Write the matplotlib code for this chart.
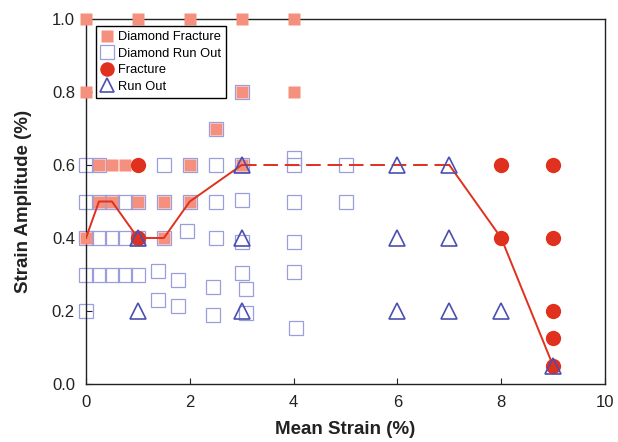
import matplotlib
matplotlib.use("Agg")
import matplotlib.pyplot as plt

plt.rcParams["font.family"] = ["Liberation Sans", "DejaVu Sans"]

# Diamond Run Out (open squares)
run_out_sq_x = [0, 0, 0, 0, 0,
                0.25, 0.25, 0.25, 0.25,
                0.5, 0.5, 0.5,
                0.75, 0.75, 0.75,
                1.0, 1.0, 1.0,
                1.38, 1.38,
                1.5, 1.5, 1.5,
                1.77, 1.77,
                1.95,
                2.0, 2.0,
                2.44, 2.44,
                2.5, 2.5, 2.5, 2.5,
                3.0, 3.0, 3.0, 3.0, 3.0,
                3.09, 3.09,
                4.0, 4.0, 4.0, 4.0, 4.0,
                4.05,
                5.0, 5.0]
run_out_sq_y = [0.6, 0.5, 0.4, 0.3, 0.2,
                0.6, 0.5, 0.4, 0.3,
                0.5, 0.4, 0.3,
                0.5, 0.4, 0.3,
                0.5, 0.4, 0.3,
                0.309, 0.23,
                0.6, 0.5, 0.4,
                0.284, 0.215,
                0.42,
                0.6, 0.5,
                0.265, 0.19,
                0.7, 0.6, 0.5, 0.4,
                0.8, 0.6, 0.504, 0.39, 0.304,
                0.259, 0.195,
                0.62, 0.6, 0.5, 0.39, 0.306,
                0.154,
                0.6, 0.5]

# Diamond Fracture (filled squares)
fracture_sq_x = [0, 1, 2, 3, 4,
                 0, 3, 4,
                 2.5,
                 0.25, 0.5, 0.75, 2.0, 3.0,
                 0.25, 0.5, 1.0, 1.5, 2.0,
                 0, 1.5]
fracture_sq_y = [1.0, 1.0, 1.0, 1.0, 1.0,
                 0.8, 0.8, 0.8,
                 0.7,
                 0.6, 0.6, 0.6, 0.6, 0.6,
                 0.5, 0.5, 0.5, 0.5, 0.5,
                 0.4, 0.4]

# Fracture (circles)
fracture_x = [1, 1, 8, 9, 8, 9, 9, 9, 9]
fracture_y = [0.6, 0.4, 0.6, 0.6, 0.4, 0.4, 0.2, 0.125, 0.05]

# Run Out (triangles)
run_out_x = [1, 1, 3, 3, 3, 6, 7, 6, 7, 6, 7, 8, 9]
run_out_y = [0.4, 0.2, 0.6, 0.4, 0.2, 0.6, 0.6, 0.4, 0.4, 0.2, 0.2, 0.2, 0.05]

# boundary line
left_x = [0, 0.25, 0.5, 1.0, 1.5, 2.0, 3.0]
left_y = [0.4, 0.5, 0.5, 0.4, 0.4, 0.5, 0.6]
mid_x = [3.0, 7.0]
mid_y = [0.6, 0.6]
right_x = [7.0, 8.0, 9.0]
right_y = [0.6, 0.4, 0.05]

SALMON = "#F5907E"
LAVENDER = "#9B9EDC"
RED = "#E0301E"
BLUE = "#4A4FB0"

fig = plt.figure(figsize=(6.18, 4.42), dpi=100)
ax = fig.add_axes([86 / 618, 1 - 384 / 442, 519 / 618, 365 / 442])

ax.plot(run_out_sq_x, run_out_sq_y, "s", ms=10.3, mfc="none", mec=LAVENDER,
        mew=0.9, clip_on=False, zorder=2, label="Diamond Run Out")
ax.plot(fracture_sq_x, fracture_sq_y, "s", ms=8.8, mfc=SALMON, mec="none",
        clip_on=False, zorder=3, label="Diamond Fracture")
ax.plot(fracture_x, fracture_y, "o", ms=11, mfc=RED, mec="none",
        clip_on=False, zorder=4, label="Fracture")
ax.plot(left_x, left_y, "-", color=RED, lw=1.4, zorder=5)
ax.plot(mid_x, mid_y, "--", color=RED, lw=1.4, dashes=(7.5, 3.5), zorder=5)
ax.plot(right_x, right_y, "-", color=RED, lw=1.4, zorder=5)
ax.plot(run_out_x, run_out_y, "^", ms=11, mfc="none", mec=BLUE, mew=1.2,
        clip_on=False, zorder=6, label="Run Out")

ax.set_xlim(0, 10)
ax.set_ylim(0, 1.0)
ax.set_xticks([0, 2, 4, 6, 8, 10])
ax.set_yticks([0.0, 0.2, 0.4, 0.6, 0.8, 1.0])
ax.set_yticklabels(["0.0", "0.2", "0.4", "0.6", "0.8", "1.0"])
ax.tick_params(direction="in", length=4, width=0.8, labelsize=12,
               colors="#222222", pad=8)
for spine in ax.spines.values():
    spine.set_linewidth(1.0)
    spine.set_color("#222222")

ax.set_xlabel("Mean Strain (%)", fontsize=13.5, fontweight="bold",
              color="#222222", labelpad=8)
ax.set_ylabel("Strain Amplitude (%)", fontsize=13.5, fontweight="bold",
              color="#222222", labelpad=14)

handles, labels = ax.get_legend_handles_labels()
order = [1, 0, 2, 3]
leg = ax.legend([handles[i] for i in order], [labels[i] for i in order],
                loc="upper left", bbox_to_anchor=(0.019, 0.981),
                borderaxespad=0, fontsize=9.3, frameon=True, fancybox=False,
                edgecolor="black", framealpha=1, handlelength=0.9,
                handletextpad=0.4, labelspacing=0.35, borderpad=0.4,
                markerscale=0.95)
leg.get_frame().set_linewidth(1.0)
leg.set_zorder(10)

fig.savefig("out.png", dpi=100)
